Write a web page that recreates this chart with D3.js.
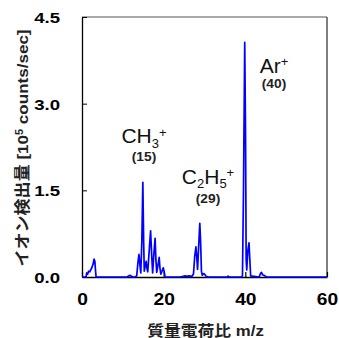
<!DOCTYPE html>
<html><head><meta charset="utf-8">
<script src="https://cdn.jsdelivr.net/npm/d3@7"></script>
<style>
html,body{margin:0;padding:0;background:#fff;}
svg{display:block;}
</style></head>
<body>
<svg id="chart" width="339" height="338"></svg>
<script>
// m/z values and ion counts [10^5 counts/sec]
const mz = [0,0.5,1.0,1.15,1.4,1.6,1.9,2.1,2.4,2.7,2.95,3.15,3.3,3.45,4,
  11.0,11.5,11.8,12.1,12.5,13.0,13.4,13.7,13.95,14.2,14.4,14.65,14.9,15.1,15.25,15.5,15.7,15.9,16.1,
  16.5,16.8,17.05,17.3,17.6,17.9,18.1,18.3,18.6,18.9,19.1,19.3,19.6,19.9,20.1,20.35,21,
  24,25.3,25.7,26.2,26.9,27.3,27.6,27.9,28.1,28.3,28.55,28.85,29.05,29.25,29.45,29.8,30.0,30.4,31,
  35.5,35.8,36.1,39.0,39.3,39.55,39.85,40.05,40.2,40.35,40.6,40.9,41.1,41.3,
  43.4,43.7,43.95,44.2,44.5,44.8,45.2,60];
const counts = [0,0,0,0.07,0.05,0.1,0.09,0.12,0.16,0.22,0.31,0.27,0.12,0,0,
  0,0.02,0.03,0.01,0,0,0.02,0.25,0.39,0.2,0.07,0.6,1.64,0.6,0.1,0.2,0.27,0.15,0.09,
  0.5,0.8,0.4,0.07,0.4,0.67,0.3,0.08,0.2,0.34,0.15,0.05,0.1,0.16,0.1,0,0,
  0,0.02,0.01,0.02,0.01,0.05,0.35,0.52,0.35,0.13,0.5,0.93,0.6,0.1,0.03,0.06,0.05,0.01,0,
  0,0.015,0,0,0.02,1.5,4.06,2.5,0.3,0.12,0.45,0.59,0.3,0.02,
  0,0.06,0.08,0.04,0.03,0.02,0,0];
const xTicks = [0,20,40,60];
const yTicks = [0,1.5,3.0,4.5];
const xTitle = "質量電荷比 m/z";
const yTitleMain = "イオン検出量 [10";
const yTitleSup = "5";
const yTitleEnd = " counts/sec]";
const peakLabels = [
  {mz:15, parts:[["CH",""],["3","sub"],["+","sup"]], mass:"(15)"},
  {mz:29, parts:[["C",""],["2","sub"],["H",""],["5","sub"],["+","sup"]], mass:"(29)"},
  {mz:40, parts:[["Ar",""],["+","sup"]], mass:"(40)"}
];

const svg = d3.select("#chart");
const L = 82, R = 327, T = 17, B = 277;
const x = d3.scaleLinear().domain([0,60]).range([L,R]);
const y = d3.scaleLinear().domain([0,4.5]).range([B,T]);

const fontLatin = "'Liberation Sans', Arial, Helvetica, sans-serif";
const fontJP = "'Liberation Sans', 'Noto Sans CJK JP', sans-serif";

// frame top/right
svg.append("line").attr("x1",L).attr("x2",R).attr("y1",T).attr("y2",T)
  .attr("stroke","#555").attr("stroke-width",1.2);
svg.append("line").attr("x1",R).attr("x2",R).attr("y1",T).attr("y2",B)
  .attr("stroke","#555").attr("stroke-width",1.5);

// y axis
const gy = svg.append("g").attr("transform",`translate(${L},0)`)
  .call(d3.axisLeft(y).tickValues(yTicks).tickSize(-5).tickSizeOuter(0).tickFormat(d3.format(".1f")));
gy.select(".domain").attr("stroke","#000").attr("stroke-width",1.3);
gy.selectAll(".tick line").attr("stroke","#000").attr("stroke-width",1);
gy.selectAll(".tick text")
  .attr("x",0).attr("dy",null).attr("y",5.5)
  .attr("transform","translate(-22,0) scale(1.2,1)")
  .attr("text-anchor","end")
  .style("font-family",fontLatin).style("font-weight","bold").style("font-size","15.5px").attr("fill","#000");

// x axis
const gx = svg.append("g").attr("transform",`translate(0,${B})`)
  .call(d3.axisBottom(x).tickValues(xTicks).tickSize(-5).tickSizeOuter(0).tickFormat(d3.format("d")));
gx.select(".domain").attr("stroke","#000").attr("stroke-width",1.3);
gx.selectAll(".tick line").attr("stroke","#000").attr("stroke-width",1.2);
gx.selectAll(".tick text")
  .attr("y",0).attr("dy",null).attr("x",0)
  .attr("transform","translate(0,28) scale(1.2,1)")
  .attr("text-anchor","middle")
  .style("font-family",fontLatin).style("font-weight","bold").style("font-size","16px").attr("fill","#000");

// spectrum line
const pts = mz.map((m,i)=>[m,counts[i]]);
svg.append("path").datum(pts)
  .attr("fill","none").attr("stroke","#0000ff").attr("stroke-width",1.7)
  .attr("stroke-linejoin","round")
  .attr("d", d3.line().x(d=>x(d[0])).y(d=>y(d[1])));

// axis titles
svg.append("text")
  .attr("transform",`translate(${(L+R)/2+1},336) scale(1.12,1)`)
  .attr("text-anchor","middle")
  .style("font-family",fontJP).style("font-weight","bold").style("font-size","15px")
  .attr("fill","#222").text(xTitle);

const yt = svg.append("text")
  .attr("transform",`translate(28,${(T+B)/2+1}) rotate(-90) scale(1.1,1)`)
  .attr("text-anchor","middle")
  .style("font-family",fontJP).style("font-weight","bold").style("font-size","15.5px")
  .attr("fill","#222");
yt.append("tspan").text(yTitleMain);
yt.append("tspan").attr("dy",-5).style("font-size","10px").text(yTitleSup);
yt.append("tspan").attr("dy",5).text(yTitleEnd);

// peak labels
const labelPos = {15:[144,143,161], 29:[208,183.5,203], 40:[274,72.5,88]};
peakLabels.forEach(p=>{
  const [cx, by, my] = labelPos[p.mz];
  const t = svg.append("text")
    .attr("transform",`translate(${cx},${by})`)
    .attr("text-anchor","middle")
    .style("font-family",fontLatin).style("font-size","21px").attr("fill","#111");
  let shift = 0;
  p.parts.forEach(([s,k])=>{
    const ts = t.append("tspan").text(s);
    let target = k==="sub"?4.5:(k==="sup"?-6.5:0);
    ts.attr("dy", target-shift); shift = target;
    if(k) ts.style("font-size","13px");
  });
  svg.append("text")
    .attr("transform",`translate(${cx},${my}) scale(1.1,1)`)
    .attr("text-anchor","middle")
    .style("font-family",fontLatin).style("font-weight","bold").style("font-size","12.5px")
    .attr("fill","#222").text(p.mass);
});
</script>
</body></html>
